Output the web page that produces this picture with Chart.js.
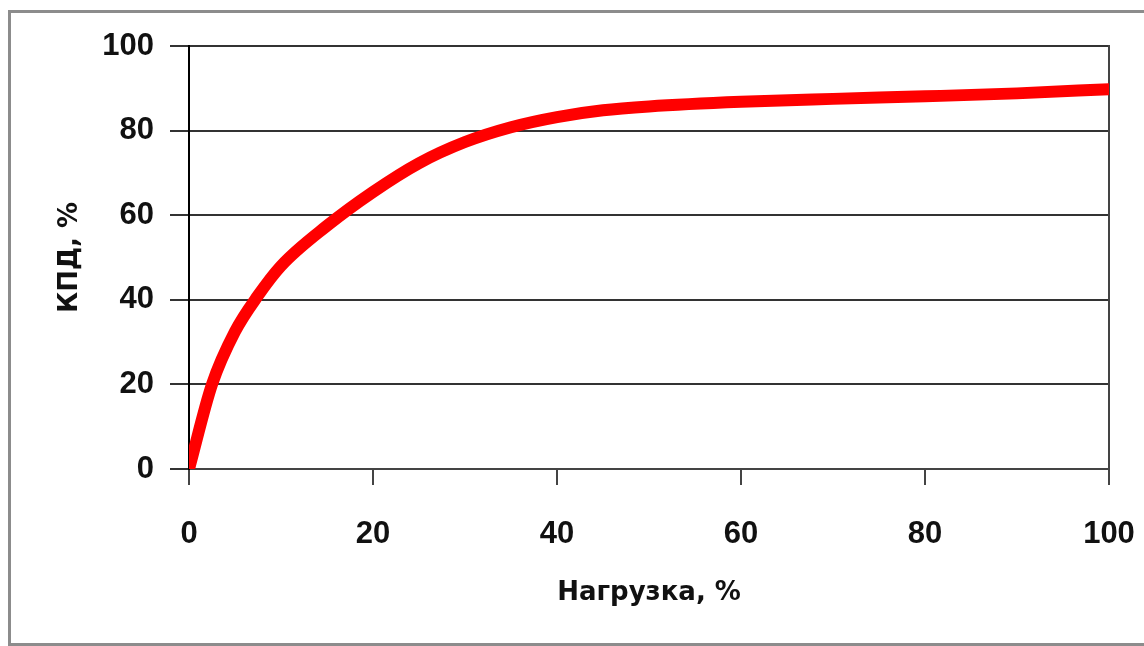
<!DOCTYPE html>
<html lang="ru">
<head>
<meta charset="utf-8">
<title>КПД</title>
<script src="https://cdn.jsdelivr.net/npm/chart.js@4/dist/chart.umd.min.js"></script>
<style>
    html, body { margin: 0; padding: 0; background: #fff; overflow: hidden; }
    #moldura {
        position: absolute; left: 8px; top: 10px; width: 1200px; height: 636px;
        box-sizing: border-box; border: 3px solid #8c8c8c;
    }
    #caixa { position: absolute; left: 0; top: 0; width: 1144px; height: 646px; }
</style>
</head>
<body>
<div id="moldura"></div>
<div id="caixa"><canvas id="grafico-kpd"></canvas></div>
<script>
// Нагрузка, % и КПД, %
const nagruzka = [0, 2.5, 5, 7.5, 10, 15, 20, 25, 30, 35, 40, 45, 50, 60, 70, 80, 90, 100];
const kpd = [0, 20, 32.5, 41, 48, 57.5, 65.5, 72.3, 77.3, 80.8, 83.2, 84.8, 85.7, 86.8, 87.5, 88.1, 88.8, 89.8];
const ticksX = [0, 20, 40, 60, 80, 100];
const ticksY = [0, 20, 40, 60, 80, 100];

function graficoKPD() {
    const ctx = document.getElementById('grafico-kpd').getContext('2d');
    const pontos = nagruzka.map((x, i) => ({ x: x, y: kpd[i] }));
    const fonteTicks = { family: '"Liberation Sans", Arial, sans-serif', size: 31, weight: 'bold' };
    const fonteTitulo = { family: '"DejaVu Sans", Verdana, sans-serif', size: 26, weight: 'bold' };

    new Chart(ctx, {
        type: 'line',
        data: {
            datasets: [{
                label: 'КПД',
                data: pontos,
                borderColor: '#ff0000',
                borderWidth: 12,
                borderCapStyle: 'round',
                borderJoinStyle: 'round',
                pointRadius: 0,
                fill: false,
                cubicInterpolationMode: 'monotone'
            }]
        },
        options: {
            responsive: true,
            maintainAspectRatio: false,
            animation: false,
            layout: { padding: { left: 0, top: 46, right: 35, bottom: 0 } },
            plugins: { legend: { display: false }, tooltip: { enabled: false } },
            scales: {
                x: {
                    type: 'linear',
                    min: 0,
                    max: 100,
                    afterBuildTicks: s => { s.ticks = ticksX.map(v => ({ value: v })); },
                    afterFit: s => { s.height = 177; s.paddingLeft = 0; s.paddingRight = 0; },
                    grid: { drawOnChartArea: false, drawTicks: true, tickLength: 16, color: '#444', lineWidth: 2 },
                    border: { display: true, color: '#444', width: 2 },
                    ticks: { color: '#111', font: fonteTicks, padding: 31, maxRotation: 0 },
                    title: {
                        display: true,
                        text: 'Нагрузка, %',
                        color: '#111',
                        font: fonteTitulo,
                        padding: { top: 0, bottom: 37 }
                    }
                },
                y: {
                    min: 0,
                    max: 100,
                    afterBuildTicks: s => { s.ticks = ticksY.map(v => ({ value: v })); },
                    afterFit: s => { s.width = 189; },
                    grid: { color: '#333', lineWidth: 2, tickLength: 19 },
                    border: { display: true, color: '#000', width: 2 },
                    ticks: { color: '#111', font: fonteTicks, padding: 16 },
                    title: {
                        display: true,
                        text: 'КПД, %',
                        color: '#111',
                        font: fonteTitulo,
                        padding: { top: 55, bottom: 0 }
                    }
                },
                // правая рамка области построения
                yDir: {
                    position: 'right',
                    min: 0,
                    max: 100,
                    afterFit: s => { s.width = 0; },
                    grid: { display: false },
                    ticks: { display: false },
                    border: { display: true, color: '#444', width: 2 }
                }
            }
        }
    });
}

document.addEventListener('DOMContentLoaded', graficoKPD);
</script>
</body>
</html>
